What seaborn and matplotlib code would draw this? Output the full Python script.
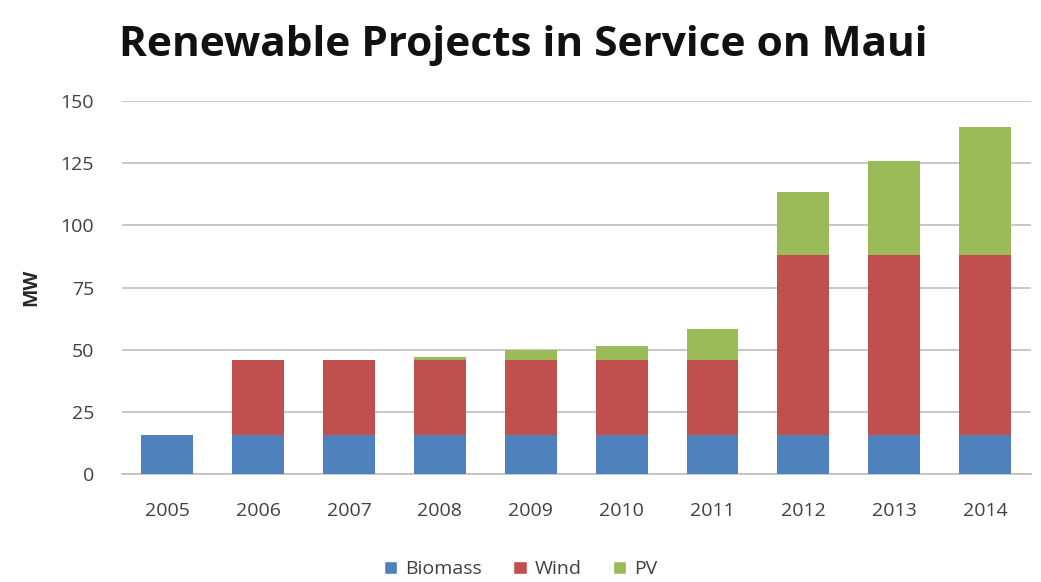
import numpy as np
import pandas as pd
import matplotlib
matplotlib.use("Agg")
import matplotlib.pyplot as plt
import seaborn as sns
from matplotlib.patches import Patch

years = ["2005", "2006", "2007", "2008", "2009", "2010", "2011", "2012", "2013", "2014"]
biomass = [15.5, 15.5, 15.5, 15.5, 15.5, 15.5, 15.5, 15.5, 15.5, 15.5]
wind = [0, 30.5, 30.5, 30.5, 30.5, 30.5, 30.5, 72.5, 72.5, 72.5]
pv = [0, 0, 0, 1, 4, 5.3, 12.3, 25.5, 38, 51.5]

colors = {"Biomass": "#4F81BD", "Wind": "#C0504D", "PV": "#9BBB59"}

sns.set_theme(style="white")
plt.rcParams["font.family"] = ["Open Sans", "DejaVu Sans"]

df = pd.DataFrame({"year": years, "Biomass": biomass, "Wind": wind, "PV": pv})
df["t_bw"] = df["Biomass"] + df["Wind"]
df["t_all"] = df["t_bw"] + df["PV"]

fig = plt.figure(figsize=(10.41, 5.82), dpi=100)
ax = fig.add_axes([0.117, 0.186, 0.873, 0.64])

w = 0.57
for col, key in [("t_all", "PV"), ("t_bw", "Wind"), ("Biomass", "Biomass")]:
    sns.barplot(data=df, x="year", y=col, color=colors[key], saturation=1, width=w, ax=ax,
                zorder=3, linewidth=0, edgecolor="none")

ax.set_ylim(0, 150)
ax.set_yticks([0, 25, 50, 75, 100, 125, 150])
ax.set_xlim(-0.5, 9.5)
ax.yaxis.grid(True, color="#BFBFBF", linewidth=1.2, zorder=0)
ax.set_axisbelow(True)
for s in ["top", "right", "left"]:
    ax.spines[s].set_visible(False)
ax.spines["bottom"].set_color("#BFBFBF")
ax.spines["bottom"].set_linewidth(1.2)
ax.tick_params(axis="both", length=0, labelsize=14, labelcolor="#404040")
ax.tick_params(axis="x", pad=20)
ax.tick_params(axis="y", pad=20)
ax.set_xlabel("")
ax.set_ylabel("MW", fontsize=14, fontweight="bold", color="#262626", labelpad=14)

fig.text(0.503, 0.922, "Renewable Projects in Service on Maui", ha="center", va="center",
         fontsize=30.5, fontweight="bold", color="#111111")

handles = [Patch(facecolor=colors[k], label=k) for k in ["Biomass", "Wind", "PV"]]
fig.legend(handles=handles, loc="center", bbox_to_anchor=(0.5, 0.022), ncol=3, frameon=False,
           fontsize=14, handlelength=0.7, handleheight=0.7, handletextpad=0.4, columnspacing=1.6,
           labelcolor="#404040")

fig.savefig("out.png", dpi=100)
